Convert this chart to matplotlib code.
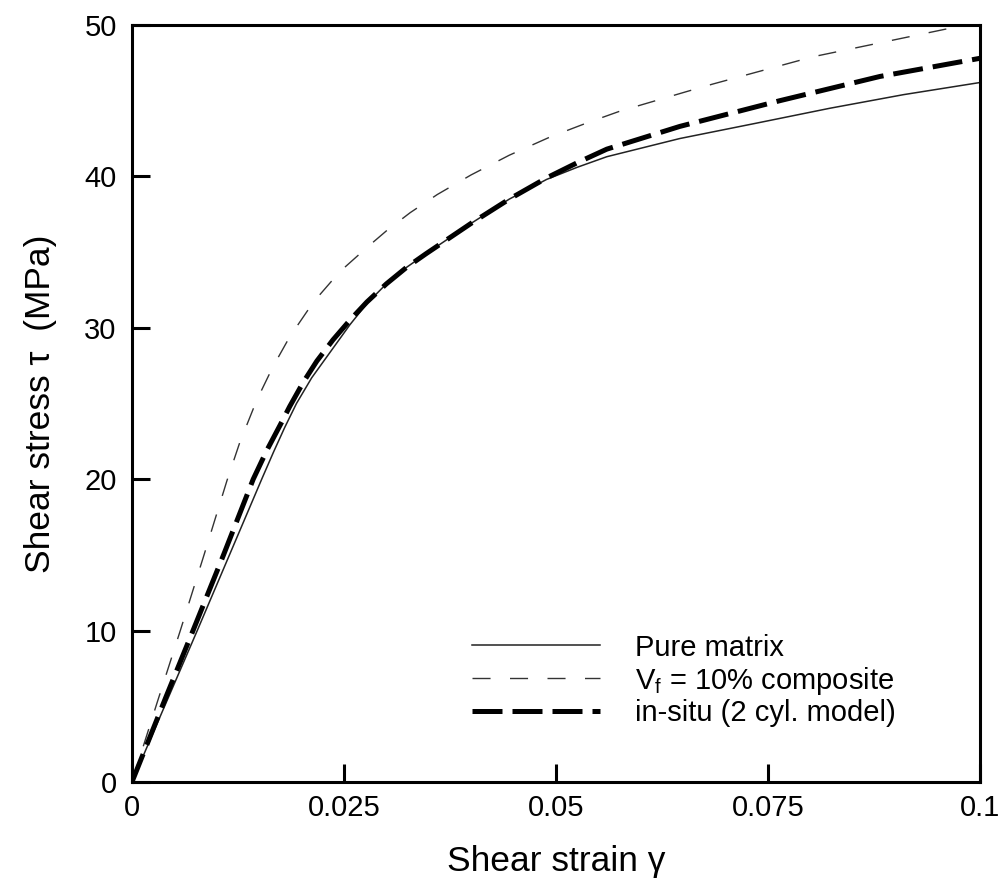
import matplotlib
matplotlib.use('Agg')
import matplotlib.pyplot as plt

plt.rcParams['font.family'] = ['Liberation Sans', 'DejaVu Sans']
plt.rcParams['mathtext.fontset'] = 'custom'
plt.rcParams['mathtext.rm'] = 'Liberation Sans'
plt.rcParams['mathtext.it'] = 'Liberation Sans:italic'

# values
pure_x = [0, 0.004, 0.0077, 0.0115, 0.0153, 0.0167, 0.018, 0.0194, 0.0212, 0.023,
          0.0257, 0.0277, 0.030, 0.0324, 0.0347, 0.040, 0.0445, 0.0489, 0.0525,
          0.056, 0.0646, 0.0735, 0.0823, 0.091, 0.1]
pure_y = [0, 5.2, 10, 15, 20, 21.8, 23.4, 25.0, 26.7, 28.1,
          30.2, 31.6, 32.9, 34.0, 34.9, 36.9, 38.5, 39.8, 40.6,
          41.3, 42.5, 43.5, 44.5, 45.4, 46.2]

comp_x = [0, 0.003, 0.0057, 0.0085, 0.0112, 0.0127, 0.0147, 0.0166, 0.0186, 0.0214,
          0.0245, 0.0277, 0.030, 0.0328, 0.036, 0.040, 0.0445, 0.0493, 0.0535,
          0.0575, 0.0654, 0.0685, 0.0803, 0.0906, 0.1]
comp_y = [0, 5.3, 10, 15, 19.9, 22.4, 25.2, 27.4, 29.4, 31.7,
          33.7, 35.3, 36.4, 37.6, 38.8, 40.1, 41.4, 42.6, 43.5,
          44.3, 45.6, 46.1, 47.9, 49.1, 50.2]

insitu_x = [0, 0.004, 0.0072, 0.0108, 0.0143, 0.0159, 0.0175, 0.0186, 0.0202, 0.0218,
            0.0237, 0.0257, 0.0277, 0.030, 0.0324, 0.0347, 0.040, 0.0445, 0.0489,
            0.0525, 0.056, 0.0646, 0.0764, 0.0882, 0.1]
insitu_y = [0, 5.6, 10, 15, 20, 21.9, 23.6, 24.8, 26.4, 27.8,
            29.2, 30.5, 31.7, 32.9, 34.0, 34.9, 36.9, 38.5, 39.9,
            40.9, 41.8, 43.3, 45.0, 46.6, 47.8]

xticks = [0, 0.025, 0.05, 0.075, 0.1]
xticklabels = ['0', '0.025', '0.05', '0.075', '0.1']
yticks = [0, 10, 20, 30, 40, 50]

fig = plt.figure(figsize=(10.05, 8.86), dpi=100)
ax = fig.add_axes([0.1313, 0.1174, 0.8438, 0.8544])

ax.plot(pure_x, pure_y, color='#222222', lw=1.1, label='Pure matrix')
ax.plot(comp_x, comp_y, color='#333333', lw=1.0, dashes=(13, 14),
        label=r'V$_\mathrm{f}$ = 10% composite')
ax.plot(insitu_x, insitu_y, color='black', lw=3.6, dashes=(6.0, 2.0),
        label='in-situ (2 cyl. model)')

ax.set_xlim(0, 0.1)
ax.set_ylim(0, 50)
ax.set_xticks(xticks)
ax.set_xticklabels(xticklabels)
ax.set_yticks(yticks)
ax.tick_params(direction='in', length=13, width=2.2, labelsize=21,
               top=False, right=False)
ax.tick_params(axis='x', pad=9)
ax.tick_params(axis='y', pad=11)
for s in ax.spines.values():
    s.set_linewidth(2.2)

ax.set_xlabel('Shear strain γ', fontsize=25.5, labelpad=16)
ax.set_ylabel('Shear stress τ  (MPa)', fontsize=25.5, labelpad=20)

ax.legend(loc='upper left', bbox_to_anchor=(0.401, 0.196), frameon=False,
          fontsize=21, handlelength=4.4, handletextpad=1.2, labelspacing=0.1,
          borderaxespad=0, borderpad=0)

fig.savefig('out.png', dpi=100)
